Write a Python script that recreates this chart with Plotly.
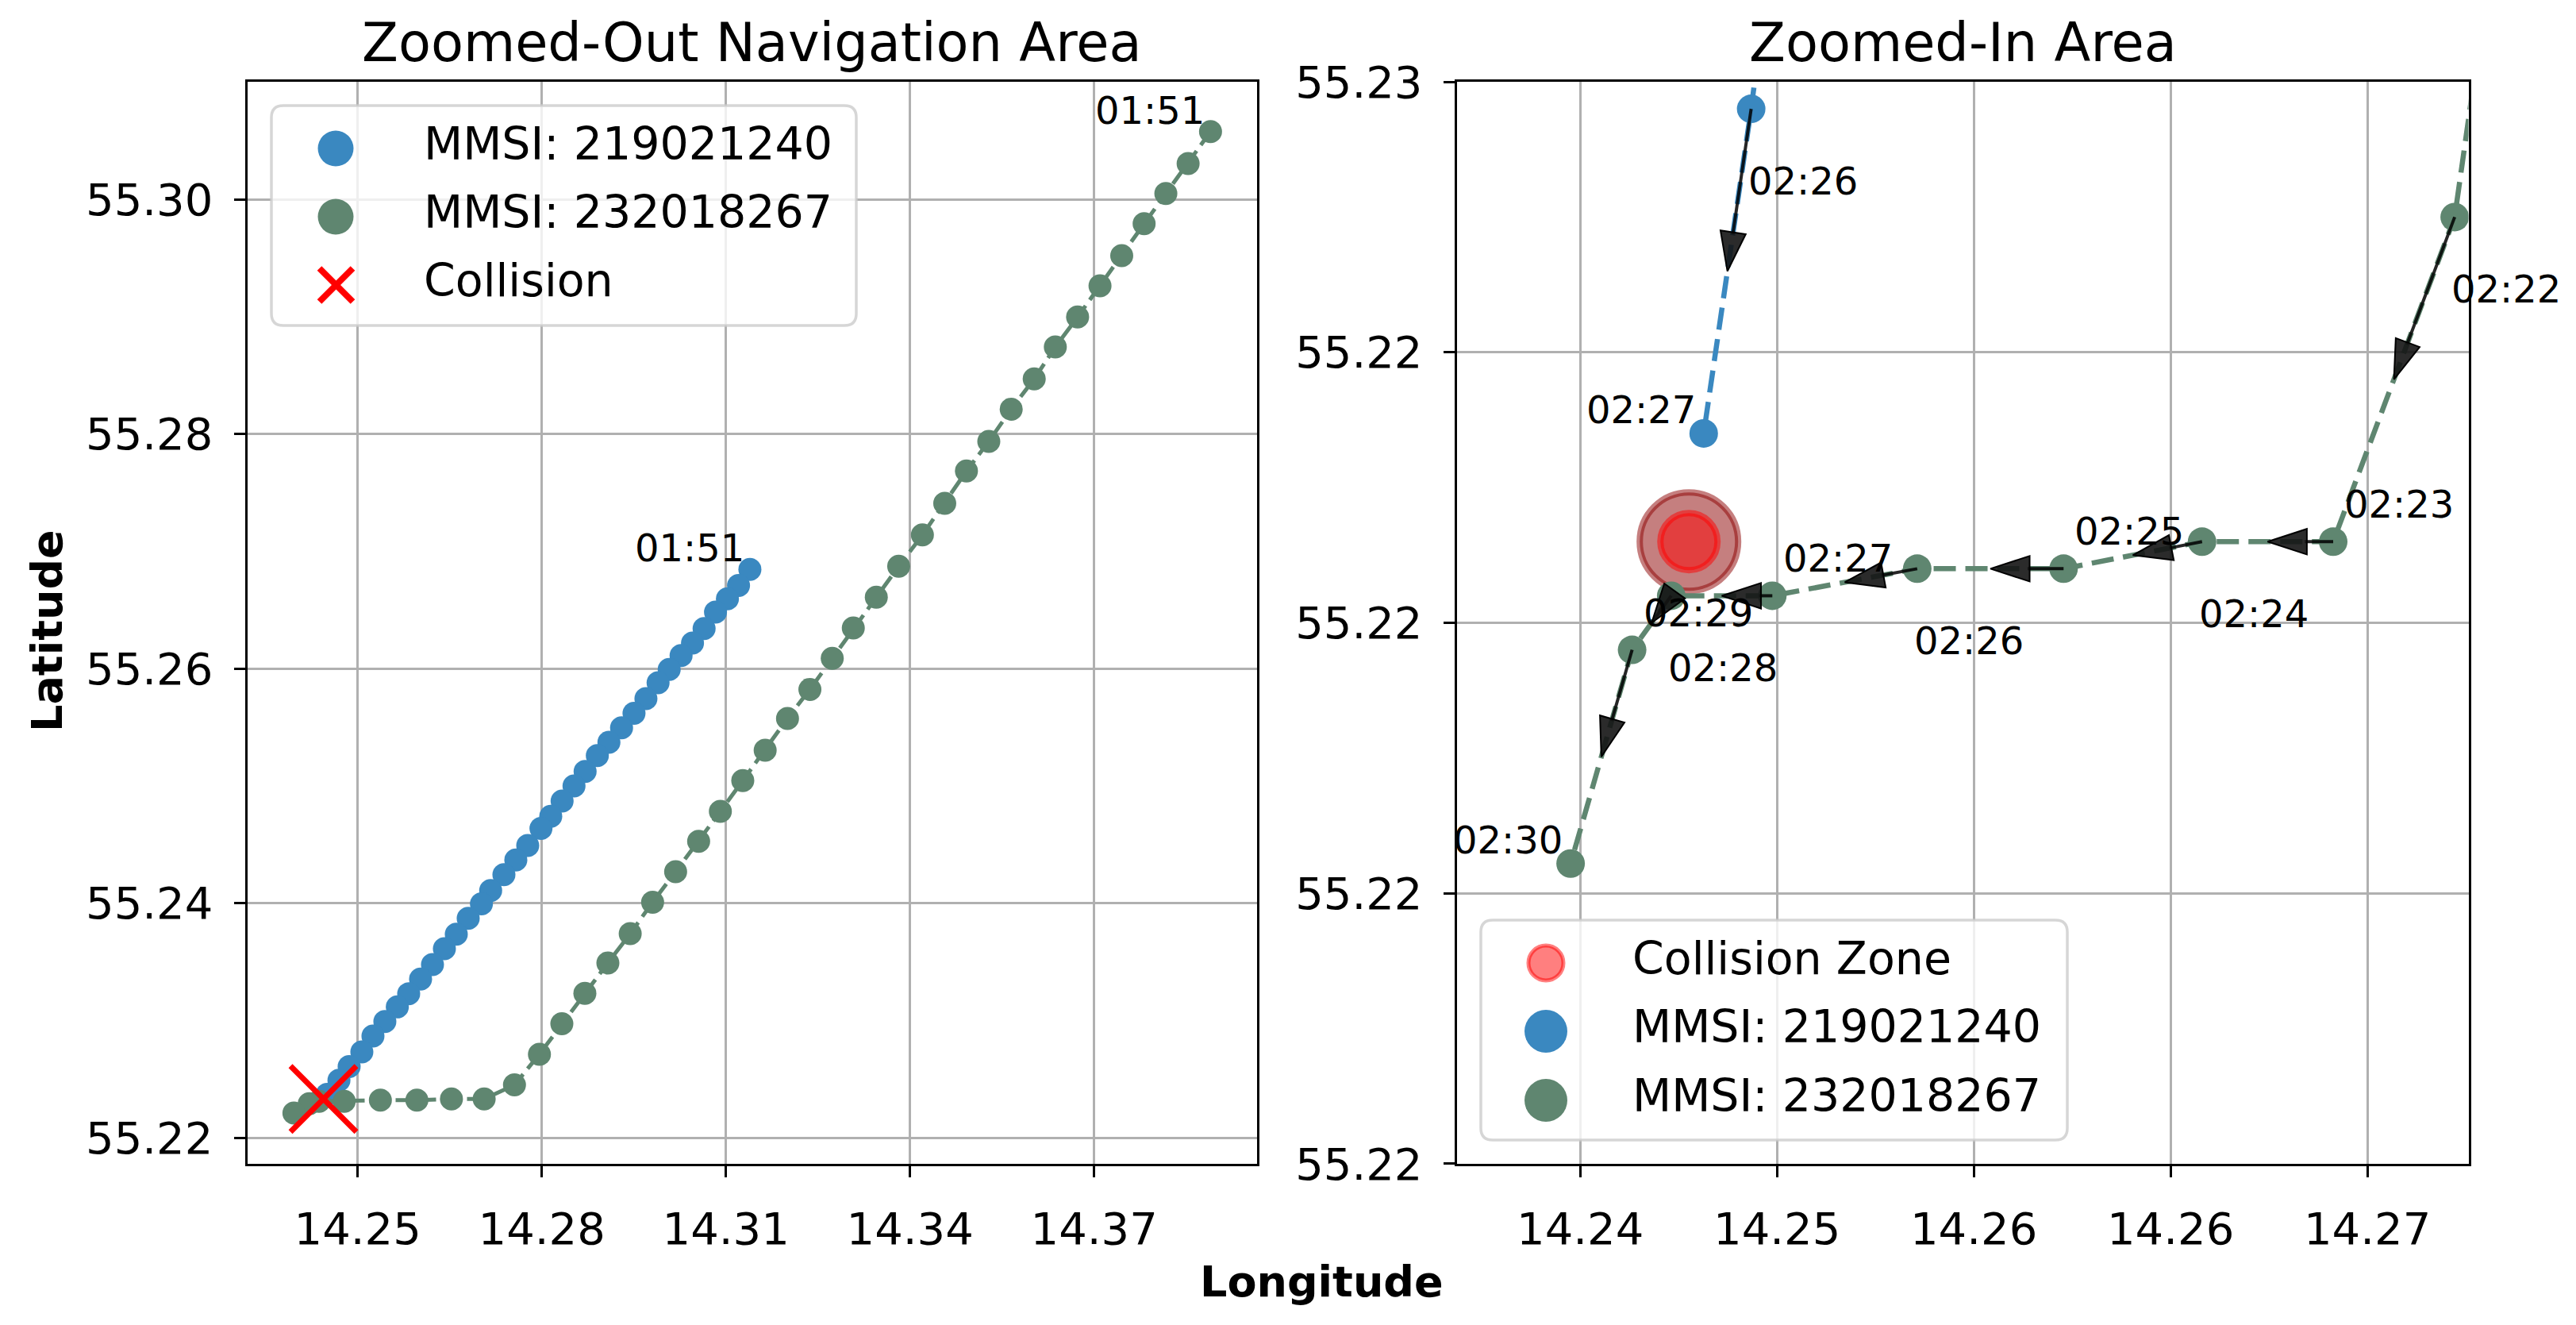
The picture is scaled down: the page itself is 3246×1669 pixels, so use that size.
import plotly.graph_objects as go

W, H = 3246, 1669
OFF = 8  # the page body margin that shifts the figure in the browser

# ---------------- data ----------------
blue_name = "MMSI: 219021240"
green_name = "MMSI: 232018267"

blue_time = ["01:51", "01:52", "01:53", "01:54", "01:55", "01:56", "01:57", "01:58", "01:59", "02:00",
             "02:01", "02:02", "02:03", "02:04", "02:05", "02:06", "02:07", "02:08", "02:09", "02:10",
             "02:11", "02:12", "02:13", "02:14", "02:15", "02:16", "02:17", "02:18", "02:19", "02:20",
             "02:21", "02:22", "02:23", "02:24", "02:25", "02:26", "02:27"]
blue_lon = [14.31391, 14.31206, 14.31025, 14.30831, 14.30645, 14.30456, 14.30270, 14.30076, 14.29895, 14.29697,
            14.29503, 14.29300, 14.29094, 14.28905, 14.28706, 14.28525, 14.28331, 14.28146, 14.27987, 14.27771,
            14.27577, 14.27383, 14.27167, 14.27017, 14.26801, 14.26607, 14.26413, 14.26219, 14.26025, 14.25831,
            14.25646, 14.25443, 14.25249, 14.25068, 14.24861, 14.24695, 14.24502]
blue_lat = [55.26846, 55.26710, 55.26595, 55.26482, 55.26342, 55.26218, 55.26112, 55.25993, 55.25880, 55.25744,
            55.25620, 55.25496, 55.25372, 55.25259, 55.25123, 55.24999, 55.24871, 55.24740, 55.24638, 55.24492,
            55.24368, 55.24243, 55.24108, 55.23995, 55.23871, 55.23735, 55.23611, 55.23476, 55.23352, 55.23227,
            55.23115, 55.22991, 55.22867, 55.22731, 55.22607, 55.22490, 55.22370]

green_time = ["01:51", "01:52", "01:53", "01:54", "01:55", "01:56", "01:57", "01:58", "01:59", "02:00",
              "02:01", "02:02", "02:03", "02:04", "02:05", "02:06", "02:07", "02:08", "02:09", "02:10",
              "02:11", "02:12", "02:13", "02:14", "02:15", "02:16", "02:17", "02:18", "02:19", "02:20",
              "02:21", "02:22", "02:23", "02:24", "02:25", "02:26", "02:27", "02:28", "02:29", "02:30"]
green_lon = [14.38897, 14.38532, 14.38169, 14.37815, 14.37450, 14.37096, 14.36731, 14.36368, 14.36024, 14.35649,
             14.35284, 14.34920, 14.34566, 14.34202, 14.33816, 14.33451, 14.33076, 14.32733, 14.32369, 14.32004,
             14.31640, 14.31275, 14.30910, 14.30556, 14.30181, 14.29806, 14.29441, 14.29077, 14.28702, 14.28327,
             14.27962, 14.27555, 14.27061, 14.26528, 14.25965, 14.25370, 14.24781, 14.24370, 14.24211, 14.23961]
green_lat = [55.30580, 55.30308, 55.30052, 55.29794, 55.29522, 55.29265, 55.28999, 55.28743, 55.28471, 55.28213,
             55.27938, 55.27685, 55.27410, 55.27140, 55.26873, 55.26609, 55.26347, 55.26088, 55.25823, 55.25576,
             55.25304, 55.25045, 55.24783, 55.24527, 55.24268, 55.24008, 55.23740, 55.23490, 55.23231, 55.22972,
             55.22712, 55.22450, 55.22330, 55.22330, 55.22320, 55.22320, 55.22310, 55.22310, 55.22290, 55.22211]

collision_lon = [14.24442]
collision_lat = [55.22330]

left_xticks = [14.25, 14.28, 14.31, 14.34, 14.37]
left_xticklabels = ["14.25", "14.28", "14.31", "14.34", "14.37"]
left_yticks = [55.22, 55.24, 55.26, 55.28, 55.30]
left_yticklabels = ["55.22", "55.24", "55.26", "55.28", "55.30"]
right_xticks = [14.240, 14.248, 14.256, 14.264, 14.272]
right_xticklabels = ["14.24", "14.25", "14.26", "14.26", "14.27"]
right_yticks = [55.221, 55.222, 55.223, 55.224, 55.225]
right_yticklabels = ["55.22", "55.22", "55.22", "55.22", "55.23"]

# ---------------- styling ----------------
BLUE = "#3a88c0"
GREEN = "#5f8670"
FONT = "DejaVu Sans"
LEFT_XR = [14.2320, 14.3965]
LEFT_YR = [55.21777, 55.31005]
RIGHT_XR = [14.23498, 14.27611]
RIGHT_YR = [55.221 - 1e-7, 55.225 + 1e-7]


def px(x):
    return (x - OFF) / W


def py(y):
    return 1 - (y - OFF) / H


fig = go.Figure()

# ---------- left panel ----------
for lon, lat, col in [(blue_lon, blue_lat, BLUE), (green_lon, green_lat, GREEN)]:
    fig.add_trace(go.Scatter(x=lon, y=lat, mode="lines+markers", xaxis="x", yaxis="y",
                             line=dict(color=col, width=5, dash="21px,9px"),
                             marker=dict(color=col, size=29, opacity=1, line=dict(width=0)),
                             hoverinfo="skip"))
fig.add_trace(go.Scatter(x=collision_lon, y=collision_lat, mode="markers", xaxis="x", yaxis="y",
                         marker=dict(symbol="x-thin", size=83, color="red", opacity=1,
                                     line=dict(color="red", width=7)),
                         hoverinfo="skip"))

annotations = []
for lon, lat, t in [(blue_lon, blue_lat, blue_time), (green_lon, green_lat, green_time)]:
    annotations.append(dict(x=lon[0], y=lat[0], xref="x", yref="y", text=t[0], showarrow=False,
                            xanchor="right", yanchor="middle", xshift=-5, yshift=27,
                            font=dict(family=FONT, size=48, color="black")))

# ---------- right panel ----------
fig.add_trace(go.Scatter(x=collision_lon, y=collision_lat, mode="markers", xaxis="x2", yaxis="y2",
                         marker=dict(size=124, color="rgba(139,0,0,0.5)", opacity=1,
                                     line=dict(color="rgba(139,0,0,0.5)", width=8)),
                         hoverinfo="skip"))
fig.add_trace(go.Scatter(x=collision_lon, y=collision_lat, mode="markers", xaxis="x2", yaxis="y2",
                         marker=dict(size=72, color="rgba(255,0,0,0.5)", opacity=1,
                                     line=dict(color="rgba(255,0,0,0.5)", width=8)),
                         hoverinfo="skip"))
for lon, lat, col in [(blue_lon, blue_lat, BLUE), (green_lon, green_lat, GREEN)]:
    fig.add_trace(go.Scatter(x=lon, y=lat, mode="lines+markers", xaxis="x2", yaxis="y2",
                             line=dict(color=col, width=6.5, dash="28px,12px"),
                             marker=dict(color=col, size=36, opacity=1, line=dict(width=0)),
                             hoverinfo="skip"))

ax_x, ax_y, ax_s = [], [], []
for lon, lat, times in [(blue_lon, blue_lat, blue_time), (green_lon, green_lat, green_time)]:
    idx = [i for i in range(len(lon))
           if RIGHT_XR[0] <= lon[i] <= RIGHT_XR[1] and RIGHT_YR[0] <= lat[i] <= RIGHT_YR[1]]
    for k, i in enumerate(idx):
        last = (k == len(idx) - 1)
        if last:
            a = dict(xanchor="right", xshift=-8, yshift=30)
        elif k % 2 == 0:
            a = dict(xanchor="left", xshift=-6, yshift=-91)
        else:
            a = dict(xanchor="left", xshift=12, yshift=47)
        annotations.append(dict(x=lon[i], y=lat[i], xref="x2", yref="y2", text=times[i], showarrow=False,
                                yanchor="middle", font=dict(family=FONT, size=48, color="black"), **a))
        if not last:
            j = idx[k + 1]
            mx = (lon[i] + lon[j]) / 2
            my = (lat[i] + lat[j]) / 2
            ax_x += [lon[i], mx, None]
            ax_y += [lat[i], my, None]
            ax_s += [0, 52, 0]

fig.add_trace(go.Scatter(x=ax_x, y=ax_y, mode="lines+markers", xaxis="x2", yaxis="y2",
                         line=dict(color="rgba(0,0,0,0.85)", width=4),
                         marker=dict(symbol="arrow", size=ax_s, angleref="previous", opacity=1,
                                     color="rgba(20,20,20,0.9)", line=dict(color="black", width=2)),
                         connectgaps=False, hoverinfo="skip"))

# ---------- titles / labels ----------
annotations += [
    dict(x=px((311.5 + 1583.6) / 2), y=py(54), xref="paper", yref="paper", text="Zoomed-Out Navigation Area",
         showarrow=False, xanchor="center", yanchor="middle", font=dict(family=FONT, size=67, color="black")),
    dict(x=px((1835.6 + 3110.5) / 2), y=py(54), xref="paper", yref="paper", text="Zoomed-In Area",
         showarrow=False, xanchor="center", yanchor="middle", font=dict(family=FONT, size=67, color="black")),
    dict(x=px(1665), y=py(1614), xref="paper", yref="paper", text="<b>Longitude</b>",
         showarrow=False, xanchor="center", yanchor="middle", font=dict(family=FONT, size=54, color="black")),
    dict(x=px(59), y=py(795), xref="paper", yref="paper", text="<b>Latitude</b>", textangle=-90,
         showarrow=False, xanchor="center", yanchor="middle", font=dict(family=FONT, size=54, color="black")),
]

# ---------- manual legends ----------
shapes = []


def rounded_box(x0, y0, x1, y1, r=15):
    rx, ry = r / W, r / H
    X0, X1, YT, YB = px(x0), px(x1), py(y0), py(y1)
    path = (f"M{X0 + rx},{YT} L{X1 - rx},{YT} Q{X1},{YT} {X1},{YT - ry} L{X1},{YB + ry} "
            f"Q{X1},{YB} {X1 - rx},{YB} L{X0 + rx},{YB} Q{X0},{YB} {X0},{YB + ry} "
            f"L{X0},{YT - ry} Q{X0},{YT} {X0 + rx},{YT} Z")
    shapes.append(dict(type="path", path=path, xref="paper", yref="paper", layer="above",
                       fillcolor="rgba(255,255,255,0.8)", line=dict(color="rgba(204,204,204,0.8)", width=3.5)))


def circle(cx, cy, d, fill, line_col=None, lw=0):
    shapes.append(dict(type="circle", xref="paper", yref="paper", layer="above",
                       x0=px(cx - d / 2), x1=px(cx + d / 2), y0=py(cy + d / 2), y1=py(cy - d / 2),
                       fillcolor=fill, line=dict(color=line_col or fill, width=lw)))


def legend_text(x, y, s):
    annotations.append(dict(x=px(x), y=py(y), xref="paper", yref="paper", text=s, showarrow=False,
                            xanchor="left", yanchor="middle", font=dict(family=FONT, size=57, color="black")))


# left legend
rounded_box(342, 133, 1079, 410)
circle(423, 187, 45, BLUE)
circle(423, 273, 45, GREEN)
for sx in (-1, 1):
    shapes.append(dict(type="line", xref="paper", yref="paper", layer="above",
                       x0=px(423.5 - 21), y0=py(359 - 21 * sx), x1=px(423.5 + 21), y1=py(359 + 21 * sx),
                       line=dict(color="red", width=8)))
legend_text(532, 181, blue_name)
legend_text(532, 267, green_name)
legend_text(532, 353, "Collision")

# right legend
rounded_box(1866, 1159, 2605, 1436)
circle(1948, 1213, 44, "rgba(255,0,0,0.5)", "rgba(255,0,0,0.5)", 5)
circle(1948, 1299, 54, BLUE)
circle(1948, 1386, 54, GREEN)
legend_text(2055, 1207, "Collision Zone")
legend_text(2055, 1293, blue_name)
legend_text(2055, 1380, green_name)


# ---------- axes ----------
def axis_style(**kw):
    d = dict(showgrid=True, gridcolor="#b0b0b0", gridwidth=2.8, showline=True, linecolor="black",
             linewidth=2.8, mirror=True, ticks="outside", ticklen=14, tickwidth=2.8, tickcolor="black",
             zeroline=False, tickfont=dict(family=FONT, size=56, color="black"), fixedrange=True,
             automargin=False)
    d.update(kw)
    return d


ydom = [py(1466), py(103)]
fig.update_layout(
    width=W, height=H, margin=dict(l=0, r=0, t=0, b=0, pad=0, autoexpand=False),
    paper_bgcolor="white", plot_bgcolor="white", showlegend=False,
    font=dict(family=FONT, color="black"),
    xaxis=axis_style(domain=[px(311.5), px(1583.6)], range=LEFT_XR, tickmode="array",
                     tickvals=left_xticks, ticktext=left_xticklabels, anchor="y", ticklabelstandoff=17),
    yaxis=axis_style(domain=ydom, range=LEFT_YR, tickmode="array",
                     tickvals=left_yticks, ticktext=left_yticklabels, anchor="x", ticklabelstandoff=15),
    xaxis2=axis_style(domain=[px(1835.6), px(3110.5)], range=RIGHT_XR, tickmode="array",
                      tickvals=right_xticks, ticktext=right_xticklabels, anchor="y2", ticklabelstandoff=17),
    yaxis2=axis_style(domain=ydom, range=RIGHT_YR, tickmode="array",
                      tickvals=right_yticks, ticktext=right_yticklabels, anchor="x2", ticklabelstandoff=15),
    annotations=annotations,
    shapes=shapes,
)

fig.write_html("out.html")
